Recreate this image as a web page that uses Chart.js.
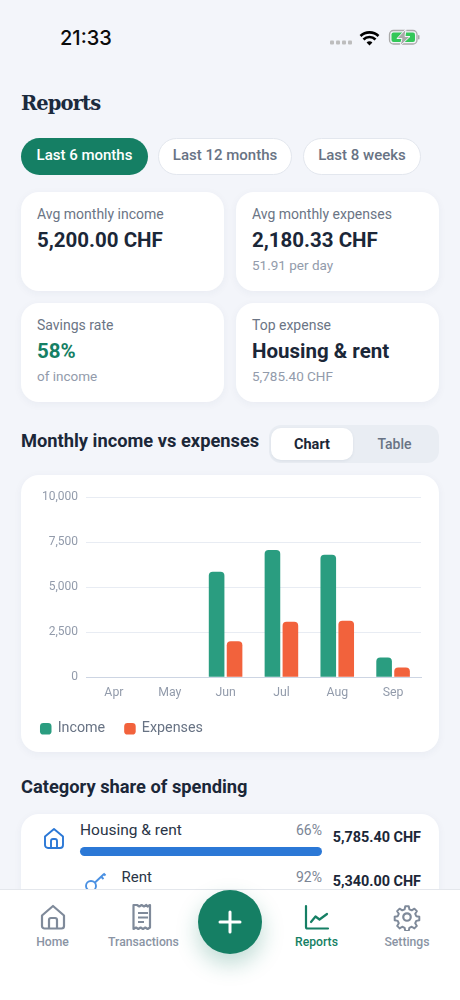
<!DOCTYPE html>
<html><head><meta charset="utf-8">
<script src="https://cdn.jsdelivr.net/npm/chart.js@4"></script>
<style>
html,body{margin:0;padding:0;background:#f3f5fa;}
body{width:460px;height:1000px;position:relative;overflow:hidden;font-family:Roboto,sans-serif;color:#1b2738;}
.a{position:absolute;white-space:nowrap;}
.t{position:absolute;white-space:nowrap;transform:translateY(-50%);line-height:1;}
.card{position:absolute;background:#fff;border-radius:18px;box-shadow:0 2px 8px rgba(40,60,90,.05);}
.pill{position:absolute;top:137.500px;height:37.500px;box-sizing:border-box;border-radius:19px;background:#fff;border:1px solid #e3e7ee;color:#687384;font-size:15px;font-weight:500;display:flex;align-items:center;justify-content:center;padding-bottom:2px;}
.lab{font-size:14px;color:#6b7585;}
.val{font-size:20.5px;font-weight:700;}
.sub{font-size:13.5px;color:#929bab;}
.sec{font-size:18.300px;font-weight:700;}
.nav{font-size:12.200px;font-weight:500;color:#8a94a4;transform:translate(-50%,-50%);}
</style></head><body>
<div class="t" style="left:60px;top:37.500px;font:500 20px Inter,sans-serif;color:#0b0b0b">21:33</div>
<svg class="a" style="left:330px;top:28px" width="92" height="20" viewBox="0 0 92 20">
 <g fill="#bdbdbd"><rect y="12.5" width="4" height="4" rx="1"/><rect x="6" y="12.5" width="4" height="4" rx="1"/><rect x="12" y="12.5" width="4" height="4" rx="1"/><rect x="18" y="12.5" width="4" height="4" rx="1"/></g>
 <path d="M30.5 8a13 13 0 0 1 18 0M33.5 11.5a8.5 8.5 0 0 1 12 0" fill="none" stroke="#000" stroke-width="2.6"/><path d="M36.6 14.5a4 4 0 0 1 5.8 0L39.5 17.5z" fill="#000"/>
 <rect x="59.5" y="2.5" width="27.5" height="13.5" rx="4" fill="none" stroke="#a9a9a9" stroke-width="1.3"/>
 <rect x="61.5" y="4.5" width="23.5" height="9.5" rx="2" fill="#34c759"/>
 <path d="M76 1 L67 10.500h5l-2 7.500L80 8.500h-5z" fill="#a9a9a9" stroke="#f3f5fa" stroke-width="1"/>
 <rect x="88" y="7" width="1.5" height="4.5" rx=".7" fill="#a9a9a9"/>
</svg>
<div class="t" style="left:21px;top:103px;font:700 19.500px 'DejaVu Serif',serif;letter-spacing:-.9px;color:#1b2a3d">Reports</div>

<div class="pill" style="left:21px;width:127px;background:#157f64;border:0;color:#fff">Last 6 months</div>
<div class="pill" style="left:158px;width:134px">Last 12 months</div>
<div class="pill" style="left:303px;width:118px">Last 8 weeks</div>

<div class="card" style="left:21px;top:191.500px;width:203px;height:99.500px"></div>
<div class="card" style="left:236px;top:191.500px;width:203px;height:99.500px"></div>
<div class="card" style="left:21px;top:302.500px;width:203px;height:99.500px"></div>
<div class="card" style="left:236px;top:302.500px;width:203px;height:99.500px"></div>
<div class="t lab" style="left:37px;top:214px">Avg monthly income</div>
<div class="t val" style="left:37px;top:240px">5,200.00 CHF</div>
<div class="t lab" style="left:252px;top:214px">Avg monthly expenses</div>
<div class="t val" style="left:252px;top:240px">2,180.33 CHF</div>
<div class="t sub" style="left:252px;top:266px">51.91 per day</div>
<div class="t lab" style="left:37px;top:325px">Savings rate</div>
<div class="t val" style="left:37px;top:351px;color:#157f64">58%</div>
<div class="t sub" style="left:37px;top:377px">of income</div>
<div class="t lab" style="left:252px;top:325px">Top expense</div>
<div class="t val" style="left:252px;top:351px">Housing &amp; rent</div>
<div class="t sub" style="left:252px;top:377px">5,785.40 CHF</div>

<div class="t sec" style="left:21px;top:441px">Monthly income vs expenses</div>
<div class="a" style="left:269px;top:425px;width:170px;height:38px;border-radius:12px;background:#e9edf3"></div>
<div class="a" style="left:271px;top:428px;width:82px;height:32px;border-radius:10px;background:#fff;box-shadow:0 1px 3px rgba(40,60,90,.08);display:flex;align-items:center;justify-content:center;font-size:14.500px;font-weight:700;color:#1b2738">Chart</div>
<div class="a" style="left:353px;top:428px;width:83px;height:32px;display:flex;align-items:center;justify-content:center;font-size:14px;font-weight:500;color:#687384">Table</div>

<div class="card" style="left:21px;top:475px;width:418px;height:277px"></div>
<div class="a" style="left:21px;top:475px;width:418px;height:277px"><canvas id="c" width="418" height="277" style="width:418px;height:277px"></canvas></div>

<div class="t sec" style="left:21px;top:787px">Category share of spending</div>
<div class="card" style="left:21px;top:814px;width:418px;height:120px"></div>
<svg class="a" style="left:42px;top:826px" width="24" height="24" viewBox="0 0 24 24" fill="none" stroke="#2b78d6" stroke-width="1.9" stroke-linejoin="round"><path d="M3 10.5 12 3l9 7.5V19a3 3 0 0 1-3 3H6a3 3 0 0 1-3-3z"/><path d="M9 22v-7a2 2 0 0 1 2-2h2a2 2 0 0 1 2 2v7"/></svg>
<div class="t" style="left:80px;top:830.500px;font-size:15.500px;color:#2a3546">Housing &amp; rent</div>
<div class="t" style="right:138px;top:830px;font-size:14px;color:#7b8595">66%</div>
<div class="t" style="right:39px;top:837.500px;font-size:14.400px;font-weight:700">5,785.40 CHF</div>
<div class="a" style="left:80px;top:847px;width:242px;height:9px;border-radius:5px;background:#2b78d6"></div>
<svg class="a" style="left:83px;top:870px" width="26" height="24" viewBox="0 0 26 24" fill="none" stroke="#4a90e2" stroke-width="1.9"><circle cx="8" cy="16" r="5"/><path d="M12 12.5 21 4M18 6.5l2.5 2.5M20.500 3.500l2 2"/></svg>
<div class="t" style="left:121.500px;top:876.500px;font-size:15px;color:#2a3546">Rent</div>
<div class="t" style="right:138px;top:876.500px;font-size:14px;color:#7b8595">92%</div>
<div class="t" style="right:39px;top:882px;font-size:14.400px;font-weight:700">5,340.00 CHF</div>

<div class="a" style="left:0;top:889px;width:460px;height:111px;background:#fff;border-top:1px solid #e4e7ec;box-sizing:border-box"></div>
<svg class="a" style="left:39px;top:903px" width="28" height="28" viewBox="0 0 28 28" fill="none" stroke="#7f8a9a" stroke-width="2.200" stroke-linejoin="round"><path d="M3 12.500 14 3l11 9.500V23a2.500 2.500 0 0 1-2.500 2.500h-17A2.500 2.500 0 0 1 3 23z"/><path d="M10 25.500V17a2 2 0 0 1 2-2h4a2 2 0 0 1 2 2v8.500"/></svg>
<svg class="a" style="left:130px;top:903px" width="26" height="28" viewBox="0 0 26 28" fill="none" stroke="#7f8a9a" stroke-width="2.200"><path d="M3.500 2v24l2.500-1.500 2.300 1.500 2.300-1.500 2.400 1.500 2.300-1.500 2.300 1.500 2.400-1.500V2l-2.400 1.500L16.300 2 14 3.500 11.600 2 9.300 3.500 7 2z" stroke-linejoin="round"/><path d="M8 10h10M8 14.500h10M8 19h6"/></svg>
<svg class="a" style="left:303px;top:903px" width="28" height="28" viewBox="0 0 28 28" fill="none" stroke="#157f64" stroke-width="2.200" stroke-linecap="round" stroke-linejoin="round"><path d="M3 3v21a1.500 1.500 0 0 0 1.500 1.500H25"/><path d="M8 19l4.500-5.500 4 3L24 11"/></svg>
<svg class="a" style="left:393px;top:903px" width="28" height="28" viewBox="0 0 24 24" fill="none" stroke="#7f8a9a" stroke-width="1.900" stroke-linejoin="round"><circle cx="12" cy="12" r="3.200"/><path d="M10.300 1.500h3.400l.6 3 2.300 1 2.600-1.600 2.400 2.400-1.600 2.600 1 2.300 3 .6v3.400l-3 .6-1 2.300 1.600 2.600-2.400 2.400-2.600-1.600-2.300 1-.6 3h-3.400l-.6-3-2.300-1-2.600 1.600-2.400-2.400 1.600-2.600-1-2.300-3-.6v-3.400l3-.6 1-2.300-1.600-2.600 2.400-2.400 2.600 1.600 2.300-1z" transform="translate(1.440 1.440) scale(.88)"/></svg>
<div class="t nav" style="left:52.500px;top:941.500px">Home</div>
<div class="t nav" style="left:143.500px;top:941.500px">Transactions</div>
<div class="t nav" style="left:316.500px;top:941.500px;color:#157f64">Reports</div>
<div class="t nav" style="left:407px;top:941.500px">Settings</div>
<div class="a" style="left:198px;top:890px;width:64px;height:64px;border-radius:50%;background:#157f64;box-shadow:0 10px 22px rgba(21,127,100,.28)"></div>
<svg class="a" style="left:218px;top:910px" width="24" height="24" viewBox="0 0 24 24" stroke="#fff" stroke-width="3" stroke-linecap="round"><path d="M12 2v20M2 12h20"/></svg>

<script>
const categories = ["Apr", "May", "Jun", "Jul", "Aug", "Sep"];
const income = [0, 0, 5850, 7055, 6795, 1090];
const expenses = [0, 0, 2000, 3075, 3130, 535];
const yMax = 10000;
const yStep = 2500;
const incomeColor = "#2a9d80";
const expensesColor = "#f2623c";

new Chart(document.getElementById("c"), {
  type: "bar",
  data: {
    labels: categories,
    datasets: [
      { label: "Income", data: income, backgroundColor: incomeColor, borderRadius: { topLeft: 4, topRight: 4 }, borderSkipped: "bottom", categoryPercentage: 0.643, barPercentage: 0.87 },
      { label: "Expenses", data: expenses, backgroundColor: expensesColor, borderRadius: { topLeft: 4, topRight: 4 }, borderSkipped: "bottom", categoryPercentage: 0.643, barPercentage: 0.87 }
    ]
  },
  options: {
    responsive: false,
    animation: false,
    layout: { padding: { left: 0, right: 18, top: 22, bottom: 6 } },
    plugins: {
      tooltip: { enabled: false },
      legend: {
        position: "bottom",
        align: "start",
        labels: {
          usePointStyle: true,
          pointStyle: "rectRounded",
          boxWidth: 9.500,
          boxHeight: 9.500,
          padding: 20,
          color: "#687384",
          font: { family: "Roboto", size: 14.300 }
        }
      }
    },
    scales: {
      x: {
        grid: { display: false, drawTicks: false },
        border: { display: true, color: "#cdd5e3", width: 1 },
        ticks: { color: "#929bab", font: { family: "Roboto", size: 12.300 }, padding: 8, maxRotation: 0 },
        afterFit(s) { s.height = 24.500; }
      },
      y: {
        min: 0,
        max: yMax,
        afterFit(s) { s.width = 65; },
        grid: { color: "#e8ecf3", drawTicks: false },
        border: { display: false },
        ticks: { stepSize: yStep, color: "#929bab", font: { family: "Roboto", size: 12 }, padding: 8, callback: v => v.toLocaleString("en-US") }
      }
    }
  }
});
</script>
</body></html>
